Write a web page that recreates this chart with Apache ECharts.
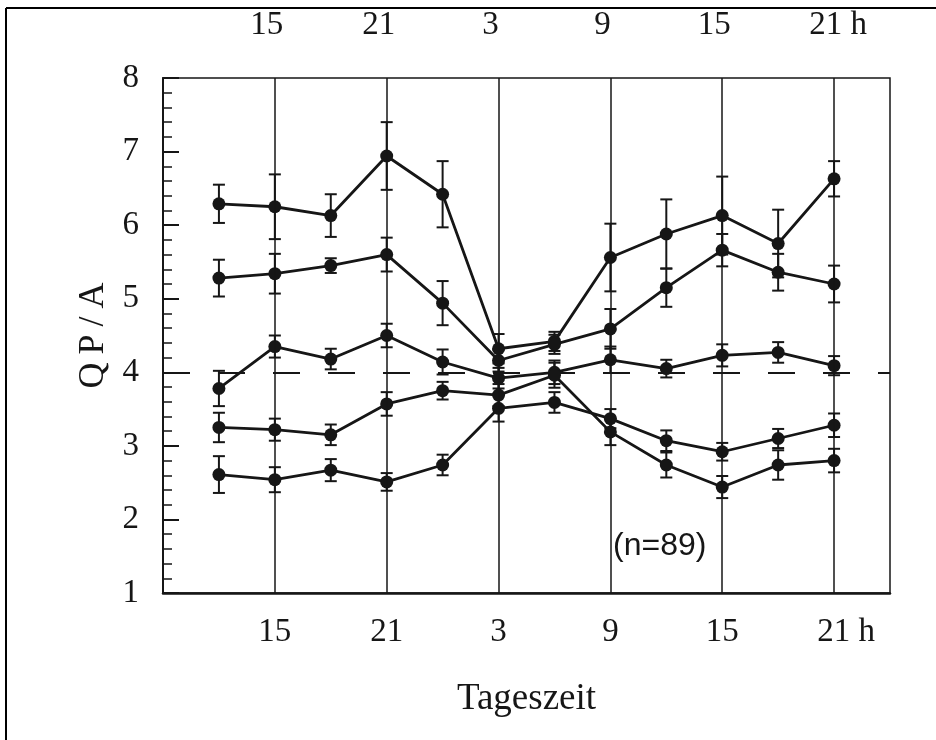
<!DOCTYPE html>
<html>
<head>
<meta charset="utf-8">
<title>QP/A – Tageszeit</title>
<script src="https://cdn.jsdelivr.net/npm/echarts@6/dist/echarts.min.js"></script>
<style>
html, body { margin: 0; padding: 0; background: #fff; }
#chart { width: 936px; height: 740px; }
</style>
</head>
<body>
<div id="chart"></div>
<script>
// sampling times in hours from the start of day 1 (12 h ... 21 h of day 2)
const hours = [12, 15, 18, 21, 24, 27, 30, 33, 36, 39, 42, 45]
const hourTicks = [15, 21, 27, 33, 39, 45]
const tickNames = ['15', '21', '3', '9', '15', '21']

// mean QP/A and half error bars, one pair per curve
const valuesA = [6.29, 6.25, 6.13, 6.94, 6.42, 4.32, 4.42, 5.56, 5.88, 6.13, 5.75, 6.63]
const errorsA = [0.26, 0.44, 0.29, 0.46, 0.45, 0.20, 0.13, 0.46, 0.47, 0.53, 0.46, 0.24]
const valuesB = [5.28, 5.34, 5.45, 5.60, 4.94, 4.16, 4.38, 4.59, 5.15, 5.66, 5.36, 5.20]
const errorsB = [0.25, 0.27, 0.10, 0.23, 0.30, 0.15, 0.13, 0.27, 0.26, 0.22, 0.25, 0.25]
const valuesC = [3.78, 4.35, 4.18, 4.50, 4.14, 3.92, 4.00, 4.17, 4.05, 4.23, 4.27, 4.09]
const errorsC = [0.24, 0.15, 0.14, 0.16, 0.17, 0.14, 0.16, 0.18, 0.12, 0.15, 0.14, 0.13]
const valuesD = [3.25, 3.22, 3.15, 3.57, 3.75, 3.69, 3.96, 3.19, 2.74, 2.44, 2.74, 2.80]
const errorsD = [0.20, 0.15, 0.14, 0.16, 0.12, 0.15, 0.17, 0.18, 0.17, 0.15, 0.20, 0.16]
const valuesE = [2.61, 2.54, 2.67, 2.51, 2.74, 3.51, 3.59, 3.37, 3.07, 2.92, 3.10, 3.28]
const errorsE = [0.25, 0.17, 0.15, 0.12, 0.14, 0.18, 0.14, 0.13, 0.14, 0.12, 0.13, 0.16]

const refLevel = 4

const ink = '#161616'
const serif = '"Liberation Serif", "DejaVu Serif", serif'

function points(vals, errs) {
  return hours.map((h, i) => [h, vals[i], errs[i]])
}

function hourLabel(v) {
  const i = hourTicks.indexOf(v)
  if (i < 0) return ''
  if (i === hourTicks.length - 1) return '{pad| }' + tickNames[i] + ' h'
  return tickNames[i]
}

function renderErr(params, api) {
  const x = api.value(0), y = api.value(1), e = api.value(2)
  const top = api.coord([x, y + e])
  const bot = api.coord([x, y - e])
  const w = 6
  const style = { stroke: ink, lineWidth: 2, fill: null }
  return {
    type: 'group',
    children: [
      { type: 'line', shape: { x1: top[0], y1: top[1], x2: bot[0], y2: bot[1] }, style },
      { type: 'line', shape: { x1: top[0] - w, y1: top[1], x2: top[0] + w, y2: top[1] }, style },
      { type: 'line', shape: { x1: bot[0] - w, y1: bot[1], x2: bot[0] + w, y2: bot[1] }, style }
    ]
  }
}

const curves = [
  [valuesA, errorsA], [valuesB, errorsB], [valuesC, errorsC], [valuesD, errorsD], [valuesE, errorsE]
]

const series = [{
  type: 'line',
  data: [],
  silent: true,
  markLine: {
    silent: true,
    symbol: ['none', 'none'],
    label: { show: false },
    animation: false,
    data: [
      ...hourTicks.map(h => ({ xAxis: h, lineStyle: { color: ink, width: 1.5, type: 'solid' } })),
      { yAxis: refLevel, lineStyle: { color: ink, width: 2, type: [27, 28] } }
    ]
  }
}]

curves.forEach(([vals, errs]) => {
  const pts = points(vals, errs)
  series.push({
    type: 'custom',
    renderItem: renderErr,
    data: pts,
    encode: { x: 0, y: 1 },
    z: 3
  })
  series.push({
    type: 'line',
    data: pts.map(p => [p[0], p[1]]),
    symbol: 'circle',
    symbolSize: 13,
    itemStyle: { color: ink },
    lineStyle: { color: ink, width: 2.8 },
    z: 4
  })
})

const baseX = {
  type: 'value',
  min: 9,
  max: 48,
  interval: 3,
  axisTick: { show: false },
  splitLine: { show: false },
  axisLabel: {
    formatter: hourLabel,
    fontFamily: serif,
    fontSize: 33,
    color: ink,
    showMinLabel: true,
    showMaxLabel: true,
    rich: { pad: { width: 24 } }
  }
}

const chart = echarts.init(document.getElementById('chart'))
chart.setOption({
  animation: false,
  backgroundColor: '#fff',
  grid: { left: 163, top: 78, right: 46, bottom: 147, show: true, borderColor: ink, borderWidth: 1.5 },
  xAxis: [
    {
      ...baseX,
      position: 'bottom',
      axisLine: { show: true, lineStyle: { color: ink, width: 2.5 } },
      axisLabel: { ...baseX.axisLabel, margin: 23 },
      name: 'Tageszeit',
      nameLocation: 'middle',
      nameGap: 88,
      nameTextStyle: { fontFamily: serif, fontSize: 37, color: ink }
    },
    {
      ...baseX,
      position: 'top',
      axisLine: { show: false },
      axisLabel: { ...baseX.axisLabel, margin: 36, padding: [0, 16, 0, 0] }
    }
  ],
  yAxis: {
    type: 'value',
    min: 1,
    max: 8,
    interval: 1,
    axisLine: { show: true, lineStyle: { color: ink, width: 2 } },
    axisTick: { show: true, inside: true, length: 16, lineStyle: { color: ink, width: 2 } },
    minorTick: { show: true, splitNumber: 5, length: 9, lineStyle: { color: ink, width: 1.5 } },
    splitLine: { show: false },
    axisLabel: { fontFamily: serif, fontSize: 33, color: ink, margin: 24 },
    name: '{c|Q}{c|P}{c|/}{c|A}',
    nameLocation: 'middle',
    nameGap: 44,
    nameRotate: 90,
    nameTextStyle: {
      fontFamily: serif, fontSize: 36, color: ink,
      rich: { c: { fontFamily: serif, fontSize: 36, color: ink, padding: [0, 4] } }
    }
  },
  graphic: [
    { type: 'line', shape: { x1: 6, y1: 8, x2: 6, y2: 740 }, style: { stroke: '#000', lineWidth: 2 } },
    { type: 'line', shape: { x1: 6, y1: 8, x2: 936, y2: 8 }, style: { stroke: '#000', lineWidth: 2 } },
    {
      type: 'text', left: 613, top: 530,
      style: { text: '(n=89)', font: '32px "Liberation Sans", Arial, sans-serif', fill: ink }
    }
  ],
  series
})
</script>
</body>
</html>
